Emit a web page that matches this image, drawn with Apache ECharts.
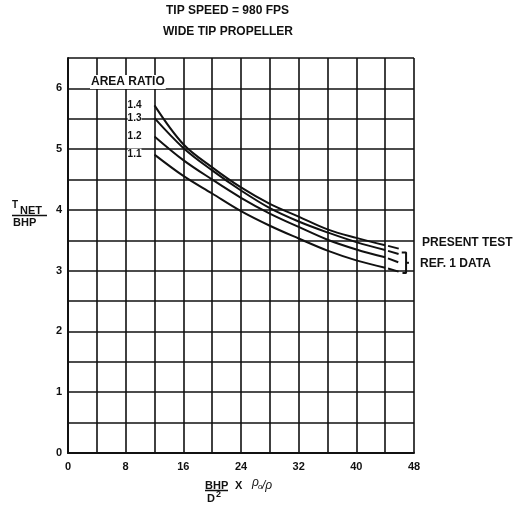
<!DOCTYPE html>
<html>
<head>
<meta charset="utf-8">
<script src="https://cdn.jsdelivr.net/npm/echarts@6/dist/echarts.min.js"></script>
<style>
html,body{margin:0;padding:0;background:#fff;}
#c{width:513px;height:507px;}
</style>
</head>
<body>
<div id="c"></div>
<script>
// ---- data ----
var xValues = [12, 16, 20, 24, 28, 32, 36, 40, 44];
var areaRatios = ['1.4', '1.3', '1.2', '1.1'];
var curve14 = [5.72, 5.08, 4.70, 4.37, 4.10, 3.89, 3.68, 3.54, 3.42];
var curve13 = [5.51, 5.02, 4.65, 4.32, 4.03, 3.81, 3.63, 3.47, 3.34];
var curve12 = [5.21, 4.82, 4.50, 4.20, 3.94, 3.72, 3.51, 3.35, 3.22];
var curve11 = [4.91, 4.56, 4.27, 3.98, 3.74, 3.53, 3.33, 3.17, 3.05];
// dashed extensions (reference data) beyond x = 44
var extX = [44, 46];
var ext14 = [3.42, 3.36];
var ext13 = [3.34, 3.27];
var ext12 = [3.22, 3.13];
var ext11 = [3.05, 2.98];
var xTickLabels = ['0', '8', '16', '24', '32', '40', '48'];
var yTickLabels = ['0', '1', '2', '3', '4', '5', '6'];
// bracket annotation in data units
var bracketX = 46.9;
var bracketTop = 3.30, bracketBottom = 2.96, bracketMid = 3.13;

var FONT = '"Liberation Sans", Arial, sans-serif';
var INK = '#111';

var curves = [curve14, curve13, curve12, curve11];
var exts = [ext14, ext13, ext12, ext11];
var labelOffsets = [[0, 0], [0, 3], [0, -1], [0, -4]];

var series = [];
curves.forEach(function (c, i) {
  series.push({
    type: 'line', smooth: 0.35, symbol: 'none',
    data: xValues.map(function (x, j) { return [x, c[j]]; }),
    lineStyle: { color: INK, width: 2 }, z: 5, silent: true
  });
  // label for the curve, anchored at its first point
  series.push({
    type: 'scatter', silent: true, z: 6, large: false,
    symbol: 'circle', symbolSize: 0, itemStyle: { color: INK, opacity: 1 },
    data: [[xValues[0], c[0]]],
    label: {
      show: true, position: 'left', distance: 13, offset: labelOffsets[i],
      formatter: areaRatios[i], color: INK, opacity: 1, fontFamily: FONT, fontWeight: 'bold',
      fontSize: 10, backgroundColor: '#ffffff', padding: [1, 0]
    },
    labelLayout: { hideOverlap: false }
  });
});
exts.forEach(function (e, i) {
  series.push({
    type: 'line', symbol: 'none',
    data: extX.map(function (x, j) { return [x, e[j]]; }),
    lineStyle: { color: INK, width: 2, type: [11, 3], dashOffset: 11 }, z: 5, silent: true
  });
});
// bracket
series.push({
  type: 'line', symbol: 'none', silent: true, z: 5,
  data: [[46.3, bracketTop], [bracketX, bracketTop], [bracketX, bracketBottom], [46.4, bracketBottom]],
  lineStyle: { color: INK, width: 2 }
});
series.push({
  type: 'line', symbol: 'none', silent: true, z: 5,
  data: [[bracketX, bracketMid], [47.3, bracketMid]],
  lineStyle: { color: INK, width: 2 }
});

var chart = echarts.init(document.getElementById('c'), null, { renderer: 'canvas' });
chart.setOption({
  animation: false,
  backgroundColor: '#fff',
  grid: { left: 68, right: 99, top: 58, bottom: 54, containLabel: false },
  xAxis: {
    type: 'value', min: 0, max: 48, interval: 4,
    axisLine: { show: true, lineStyle: { color: INK, width: 2 } },
    axisTick: { show: false },
    splitLine: { show: true, lineStyle: { color: INK, width: 1.6 } },
    axisLabel: {
      color: INK, fontFamily: FONT, fontWeight: 'bold', fontSize: 11, margin: 8,
      formatter: function (v) { return xTickLabels.indexOf(String(v)) >= 0 ? String(v) : ''; }
    }
  },
  yAxis: {
    type: 'value', min: 0, max: 6.5, interval: 0.5,
    axisLine: { show: true, lineStyle: { color: INK, width: 2 } },
    axisTick: { show: false },
    splitLine: { show: true, lineStyle: { color: INK, width: 1.6 } },
    axisLabel: {
      color: INK, fontFamily: FONT, fontWeight: 'bold', fontSize: 11, margin: 6,
      formatter: function (v) { return yTickLabels.indexOf(String(v)) >= 0 ? String(v) : ''; }
    }
  },
  series: series,
  graphic: [
    { type: 'text', left: 166, top: 5, style: { text: 'TIP SPEED = 980 FPS', font: 'bold 12px ' + FONT, fill: INK } },
    { type: 'text', left: 163, top: 26, style: { text: 'WIDE TIP PROPELLER', font: 'bold 12px ' + FONT, fill: INK } },
    { type: 'text', left: 90, top: 75, z: 10, style: { text: 'AREA RATIO', font: 'bold 12px ' + FONT, fill: INK, backgroundColor: '#fff', padding: [1, 1] } },
    { type: 'text', left: 422, top: 237, style: { text: 'PRESENT TEST', font: 'bold 12px ' + FONT, fill: INK } },
    { type: 'text', left: 420, top: 258, style: { text: 'REF. 1 DATA', font: 'bold 12px ' + FONT, fill: INK } },
    // y axis title
    { type: 'text', left: 12, top: 200, style: { text: 'T', font: 'bold 10px ' + FONT, fill: INK } },
    { type: 'text', left: 20, top: 205, style: { text: 'NET', font: 'bold 11px ' + FONT, fill: INK } },
    { type: 'line', shape: { x1: 12, y1: 215.5, x2: 47, y2: 215.5 }, style: { stroke: INK, lineWidth: 1.5 } },
    { type: 'text', left: 13, top: 217, style: { text: 'BHP', font: 'bold 11px ' + FONT, fill: INK } },
    // x axis title
    { type: 'text', left: 205, top: 480, style: { text: 'BHP', font: 'bold 11px ' + FONT, fill: INK } },
    { type: 'line', shape: { x1: 205, y1: 490.5, x2: 228, y2: 490.5 }, style: { stroke: INK, lineWidth: 1.5 } },
    { type: 'text', left: 207, top: 493, style: { text: 'D', font: 'bold 11px ' + FONT, fill: INK } },
    { type: 'text', left: 216, top: 490, style: { text: '2', font: 'bold 9px ' + FONT, fill: INK } },
    { type: 'text', left: 235, top: 480, style: { text: 'X', font: 'bold 11px ' + FONT, fill: INK } },
    { type: 'text', left: 252, top: 477, style: { text: 'ρ', font: 'italic 12px ' + FONT, fill: INK } },
    { type: 'text', left: 258, top: 483, style: { text: 'o', font: 'italic 8px ' + FONT, fill: INK } },
    { type: 'text', left: 262, top: 480, style: { text: '/ρ', font: 'italic 12px ' + FONT, fill: INK } }
  ]
});
</script>
</body>
</html>
